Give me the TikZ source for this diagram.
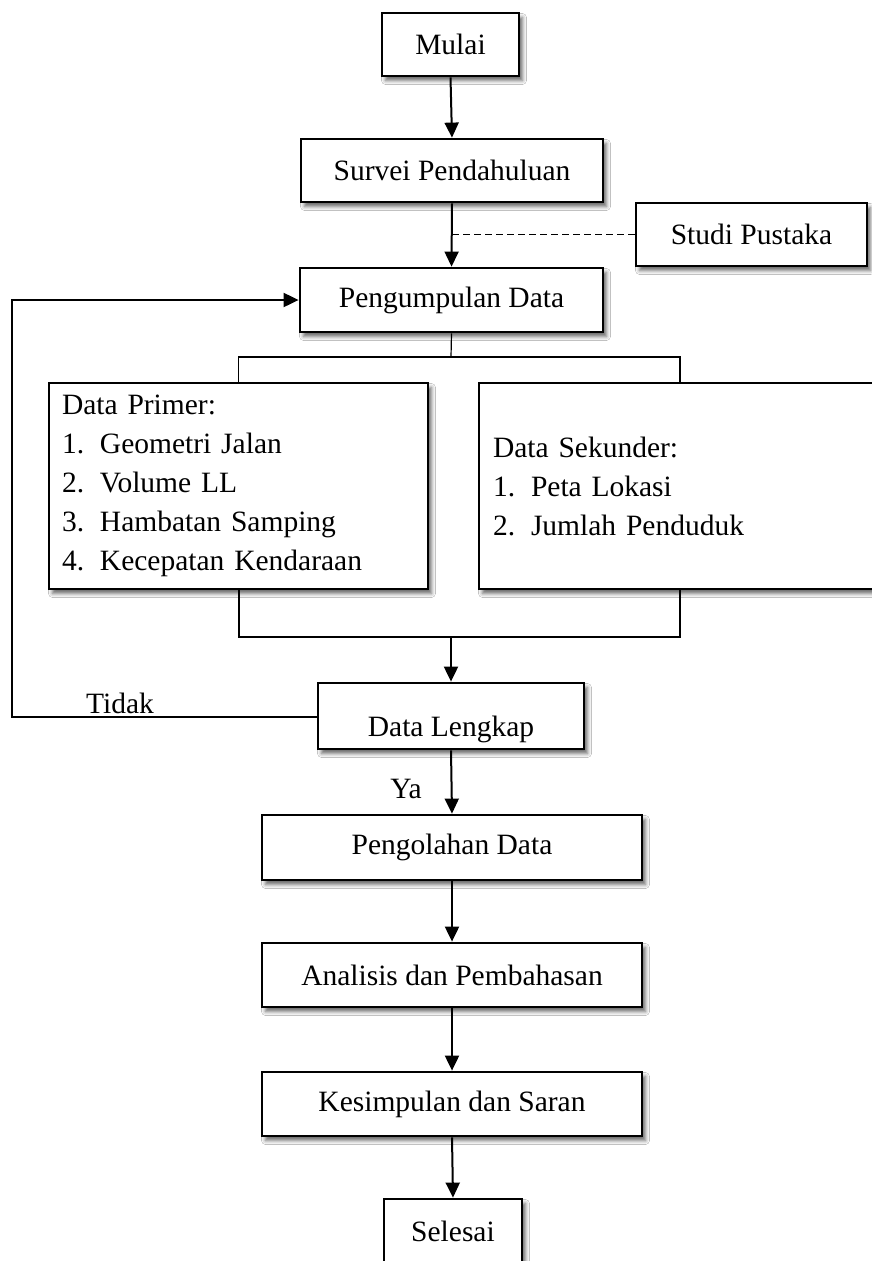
\documentclass[tikz,border=0pt]{standalone}
\usepackage{fontspec}
\setmainfont{Liberation Serif}
\usetikzlibrary{arrows.meta,shadows.blur}
\begin{document}
\begin{tikzpicture}[x=1pt,y=-1pt,
  box/.style={draw, line width=2.8pt, fill=white, inner sep=0pt,
    font=\fontsize{29.5}{39}\selectfont,
    blur shadow={shadow xshift=3.5pt, shadow yshift=-4.5pt, shadow blur radius=4pt, shadow opacity=60}},
  arr/.style={line width=2pt, -{Triangle[length=15pt,width=14pt]}},
  ln/.style={line width=2pt},
  lbl/.style={font=\fontsize{29.5}{39}\selectfont, inner sep=0pt}]
\clip (0,0) rectangle (872,1261);
\fill[white] (0,0) rectangle (872,1261);

\node[box, minimum width=137pt, minimum height=63pt] (mulai) at (450.5,44.5) {Mulai};
\node[box, minimum width=302pt, minimum height=63pt] (survei) at (452,170.5) {Survei Pendahuluan};
\node[box, minimum width=231pt, minimum height=63pt] (studi) at (751.5,234.5) {Studi Pustaka};
\node[box, minimum width=303pt, minimum height=64pt] (kumpul) at (451.5,300) {Pengumpulan Data};
\node[box, minimum width=379pt, minimum height=206pt, text width=353pt, align=left] (primer) at (238.5,486)
  {Data Primer:\\
   \makebox[38pt][l]{1.}Geometri Jalan\\
   \makebox[38pt][l]{2.}Volume LL\\
   \makebox[38pt][l]{3.}Hambatan Samping\\
   \makebox[38pt][l]{4.}Kecepatan Kendaraan};
\node[box, minimum width=402pt, minimum height=206pt, text width=374pt, align=left] (sekunder) at (680,486)
  {Data Sekunder:\\
   \makebox[38pt][l]{1.}Peta Lokasi\\
   \makebox[38pt][l]{2.}Jumlah Penduduk};
\node[box, minimum width=266pt, minimum height=66pt] (lengkap) at (451,716) {};
\node[lbl] (lengkaptxt) at (451,729) {Data Lengkap};
\node[box, minimum width=380pt, minimum height=65pt] (olah) at (452,847.5) {Pengolahan Data};
\node[box, minimum width=380pt, minimum height=64pt] (analisis) at (452,975) {Analisis dan Pembahasan};
\node[box, minimum width=380pt, minimum height=64pt] (simpul) at (452,1104) {Kesimpulan dan Saran};
\node[box, minimum width=138pt, minimum height=64pt] (selesai) at (453,1231) {Selesai};

\node[lbl] (tidak) at (120,703) {Tidak};
\node[lbl] (ya) at (406,789) {Ya};

% connectors
\draw[arr] (mulai.south) -- (survei.north);
\draw[arr] (survei.south) -- (kumpul.north);
\coordinate (dj) at (survei.south |- studi.west);
\draw[line width=1.2pt, dash pattern=on 7pt off 4pt] (studi.west) -- (dj);

\coordinate (sp) at (451,357);
\draw[line width=1.2pt] (kumpul.south) -- (sp);
\draw[line width=1.2pt] (primer.north) |- (sp) -| (sekunder.north);

\coordinate (jn) at (451,637);
\draw[ln] (primer.south) |- (jn) -| (sekunder.south);
\draw[arr] (jn) -- (lengkap.north);

\coordinate (fb) at (12,717);
\draw[arr] (lengkap.west |- fb) -- (fb) |- (kumpul.west);

\draw[arr] (lengkap.south) -- (olah.north);
\draw[arr] (olah.south) -- (analisis.north);
\draw[arr] (analisis.south) -- (simpul.north);
\draw[arr] (simpul.south) -- (selesai.north);
\end{tikzpicture}
\end{document}
